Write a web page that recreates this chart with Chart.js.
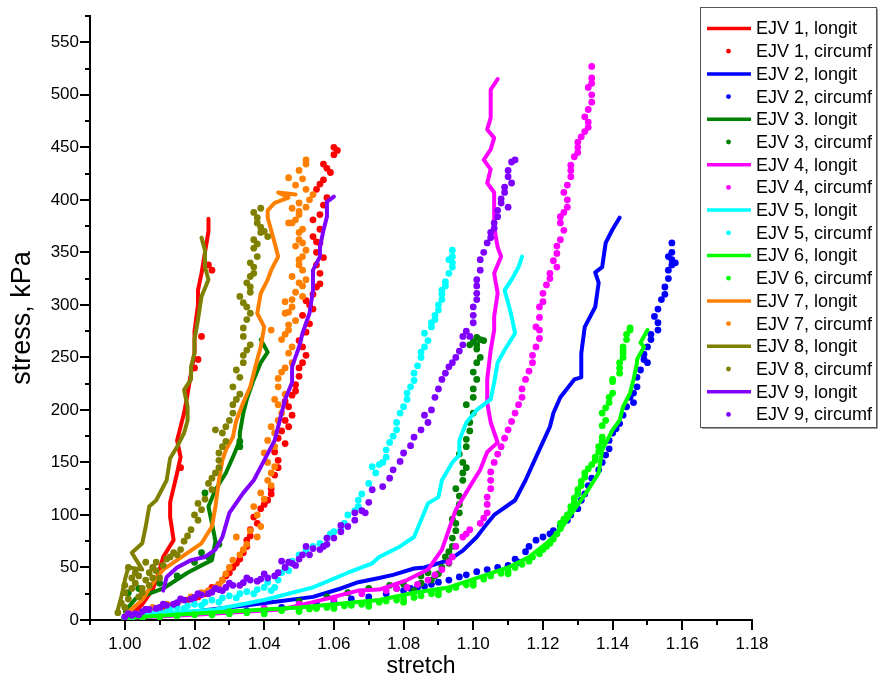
<!DOCTYPE html>
<html lang="en">
<head>
  <meta charset="UTF-8" />
  <title>Stress vs stretch, EJV samples</title>
  <script src="https://cdn.jsdelivr.net/npm/chart.js"></script>
  <style>
    html, body { margin: 0; padding: 0; background: #fff; }
    #chart { display: block; }
  </style>
</head>
<body>
  <canvas id="chart" width="879" height="677"></canvas>

  <script>
    // [stretch, stress kPa] pairs
    const ejv1Long = [[1.002,5],[1.005,15],[1.008,29],[1.010,48],[1.011,60],[1.014,76],[1.013,98],[1.013,112],[1.014,126],[1.015,140],[1.016,155],[1.015,171],[1.017,197],[1.018,215],[1.019,235],[1.020,255],[1.020,275],[1.021,300],[1.021,314],[1.022,330],[1.023,350],[1.024,370],[1.024,382]];
    const ejv1Circ = [[1.002,4],[1.006,10],[1.011,12],[1.013,14],[1.015,16],[1.018,19],[1.020,21],[1.021,22],[1.023,25],[1.024,27],[1.025,31],[1.027,34],[1.028,38],[1.029,42],[1.030,45],[1.031,50],[1.032,54],[1.033,58],[1.034,64],[1.035,70],[1.035,76],[1.036,80],[1.036,86],[1.038,92],[1.037,98],[1.039,106],[1.040,110],[1.041,114],[1.042,120],[1.042,125],[1.043,138],[1.044,145],[1.044,152],[1.043,160],[1.046,168],[1.044,173],[1.045,180],[1.047,184],[1.046,190],[1.048,195],[1.047,203],[1.046,208],[1.048,214],[1.049,218],[1.049,224],[1.050,232],[1.050,240],[1.051,245],[1.052,252],[1.051,260],[1.050,266],[1.052,274],[1.053,282],[1.051,290],[1.054,296],[1.053,300],[1.052,304],[1.054,310],[1.055,317],[1.056,320],[1.056,330],[1.055,338],[1.057,345],[1.055,350],[1.056,359],[1.055,360],[1.054,365],[1.056,372],[1.054,381],[1.056,386],[1.057,395],[1.058,402],[1.055,410],[1.056,415],[1.057,419],[1.059,426],[1.058,430],[1.057,434],[1.060,443],[1.061,447],[1.060,450],[1.016,145],[1.020,240],[1.021,248],[1.022,270],[1.025,333],[1.024,338]];

    const ejv2Long = [[1.000,2],[1.010,5],[1.020,8],[1.035,14],[1.045,18],[1.054,22],[1.062,30],[1.067,36],[1.073,40],[1.077,43],[1.083,49],[1.086,50],[1.093,57],[1.097,66],[1.101,79],[1.104,92],[1.106,100],[1.112,114],[1.115,133],[1.118,155],[1.122,184],[1.123,197],[1.125,212],[1.129,229],[1.131,231],[1.131,254],[1.132,279],[1.135,298],[1.136,321],[1.135,331],[1.137,336],[1.138,359],[1.140,372],[1.142,383]];
    const ejv2Circ = [[1.000,2],[1.005,3],[1.010,4],[1.015,5],[1.020,6],[1.025,7],[1.030,8],[1.035,9],[1.040,11],[1.045,12],[1.050,14],[1.055,16],[1.060,18],[1.065,20],[1.070,22],[1.075,25],[1.080,28],[1.082,30],[1.084,31],[1.086,32],[1.088,34],[1.090,36],[1.093,38],[1.096,41],[1.098,43],[1.101,46],[1.104,48],[1.107,50],[1.110,52],[1.112,58],[1.113,55],[1.115,65],[1.116,70],[1.118,76],[1.120,79],[1.122,82],[1.123,85],[1.125,89],[1.127,95],[1.128,100],[1.130,106],[1.131,114],[1.132,120],[1.133,128],[1.134,135],[1.136,143],[1.137,150],[1.138,157],[1.139,163],[1.139,171],[1.140,178],[1.141,182],[1.142,187],[1.143,195],[1.144,203],[1.146,207],[1.145,212],[1.146,216],[1.147,222],[1.147,231],[1.148,238],[1.150,245],[1.149,248],[1.149,253],[1.150,260],[1.151,267],[1.151,272],[1.153,276],[1.153,283],[1.152,289],[1.153,296],[1.154,305],[1.155,310],[1.155,317],[1.156,325],[1.156,333],[1.157,338],[1.158,340],[1.157,343],[1.156,346],[1.157,350],[1.157,359]];

    const ejv3Long = [[1.000,8],[1.003,20],[1.011,30],[1.018,45],[1.022,52],[1.025,57],[1.026,75],[1.025,92],[1.024,108],[1.026,124],[1.029,140],[1.031,155],[1.033,171],[1.033,178],[1.034,197],[1.035,210],[1.037,229],[1.039,245],[1.041,255],[1.039,267]];
    const ejv3Circ = [[1.001,26],[1.004,30],[1.010,35],[1.015,42],[1.020,55],[1.022,64],[1.024,60],[1.027,72],[1.023,121],[1.033,165],[1.033,170],[1.050,18],[1.058,22],[1.064,26],[1.070,30],[1.076,33],[1.078,30],[1.080,34],[1.083,28],[1.085,35],[1.085,42],[1.087,45],[1.088,38],[1.089,42],[1.090,44],[1.091,50],[1.092,60],[1.093,54],[1.093,65],[1.094,70],[1.094,78],[1.095,85],[1.095,92],[1.094,96],[1.096,102],[1.096,110],[1.096,118],[1.095,125],[1.097,133],[1.097,140],[1.098,145],[1.097,150],[1.096,158],[1.098,165],[1.098,172],[1.099,180],[1.099,188],[1.100,197],[1.098,205],[1.100,212],[1.100,220],[1.101,229],[1.100,236],[1.101,245],[1.102,250],[1.101,258],[1.101,262],[1.102,267],[1.100,265],[1.103,266],[1.101,269],[1.099,262]];

    const ejv4Long = [[1.000,2],[1.020,5],[1.045,10],[1.054,17],[1.067,28],[1.073,29],[1.081,38],[1.087,48],[1.091,67],[1.093,86],[1.095,105],[1.099,127],[1.102,143],[1.104,160],[1.107,169],[1.105,188],[1.104,207],[1.104,229],[1.105,257],[1.106,276],[1.106,289],[1.107,311],[1.106,330],[1.108,346],[1.107,355],[1.106,374],[1.106,393],[1.106,407],[1.104,416],[1.105,429],[1.103,438],[1.105,448],[1.106,459],[1.104,467],[1.105,478],[1.105,489],[1.105,505],[1.107,515]];
    const ejv4Circ = [[1.000,2],[1.010,4],[1.020,6],[1.030,8],[1.040,11],[1.050,15],[1.060,20],[1.068,25],[1.075,28],[1.078,30],[1.081,31],[1.084,34],[1.087,38],[1.089,43],[1.091,48],[1.093,55],[1.094,60],[1.095,70],[1.097,79],[1.098,82],[1.099,86],[1.102,92],[1.103,97],[1.104,102],[1.104,110],[1.104,117],[1.105,125],[1.105,133],[1.105,141],[1.106,150],[1.107,158],[1.108,165],[1.109,173],[1.110,181],[1.111,189],[1.112,197],[1.113,205],[1.114,212],[1.114,220],[1.115,229],[1.116,237],[1.117,245],[1.117,252],[1.118,260],[1.119,268],[1.119,276],[1.118,279],[1.119,288],[1.119,298],[1.120,303],[1.120,311],[1.121,319],[1.122,325],[1.122,330],[1.124,336],[1.123,342],[1.124,349],[1.124,356],[1.125,362],[1.126,371],[1.125,378],[1.125,384],[1.126,388],[1.127,393],[1.127,400],[1.126,407],[1.127,414],[1.128,422],[1.128,428],[1.128,433],[1.129,441],[1.130,445],[1.130,450],[1.130,455],[1.131,460],[1.132,465],[1.133,469],[1.133,474],[1.132,479],[1.133,486],[1.134,493],[1.134,500],[1.133,507],[1.134,511],[1.134,516],[1.134,527]];

    const ejv5Long = [[1.000,2],[1.006,5],[1.026,10],[1.040,19],[1.054,31],[1.064,45],[1.071,54],[1.073,60],[1.079,70],[1.083,79],[1.085,95],[1.087,111],[1.090,117],[1.091,133],[1.094,150],[1.096,157],[1.096,171],[1.098,188],[1.101,200],[1.105,210],[1.106,226],[1.107,245],[1.109,257],[1.112,273],[1.111,289],[1.110,302],[1.109,314],[1.111,324],[1.113,336],[1.114,346]];
    const ejv5Circ = [[1.000,3],[1.002,2],[1.003,4],[1.005,6],[1.007,5],[1.008,7.5],[1.010,9],[1.012,8],[1.013,10.5],[1.015,12],[1.017,11],[1.018,13.5],[1.020,15],[1.022,14],[1.023,17],[1.025,19],[1.027,17],[1.028,21],[1.030,23],[1.032,21],[1.033,25],[1.035,27],[1.037,25],[1.038,29],[1.040,31],[1.041,36],[1.042,28],[1.043,31],[1.044,38],[1.045,45],[1.046,50],[1.047,47],[1.048,56],[1.050,62],[1.052,66],[1.054,70],[1.056,73],[1.058,78],[1.059,82],[1.060,84],[1.062,86],[1.063,92],[1.064,100],[1.066,104],[1.067,108],[1.067,114],[1.068,120],[1.070,130],[1.072,140],[1.071,146],[1.073,148],[1.074,150],[1.075,155],[1.075,162],[1.076,169],[1.077,175],[1.078,181],[1.078,188],[1.079,197],[1.080,203],[1.081,210],[1.081,216],[1.082,222],[1.083,228],[1.083,235],[1.084,242],[1.085,250],[1.085,255],[1.086,260],[1.087,266],[1.086,273],[1.088,279],[1.088,283],[1.089,286],[1.089,290],[1.090,295],[1.090,300],[1.091,305],[1.091,310],[1.091,314],[1.092,318],[1.092,322],[1.093,330],[1.094,336],[1.094,340],[1.093,343],[1.094,346],[1.094,352]];

    const ejv6Long = [[1.000,2],[1.010,4],[1.030,8],[1.050,12],[1.073,19],[1.083,26],[1.093,31],[1.102,41],[1.110,50],[1.116,60],[1.121,73],[1.125,86],[1.129,105],[1.133,124],[1.136,140],[1.137,162],[1.140,181],[1.142,190],[1.143,203],[1.145,216],[1.146,229],[1.147,245],[1.147,248],[1.149,260],[1.148,264],[1.150,276]];
    const ejv6Circ = [[1.000,1],[1.005,2],[1.010,3],[1.015,4],[1.020,5],[1.025,5],[1.030,6],[1.030,8],[1.035,7],[1.040,8],[1.040,6],[1.045,9],[1.050,10],[1.050,8],[1.053,10.5],[1.055,11],[1.058,12],[1.060,13],[1.060,11],[1.063,13.5],[1.065,14],[1.068,15],[1.070,16],[1.070,13],[1.073,17],[1.075,18],[1.078,19],[1.080,20],[1.080,17],[1.083,21.5],[1.085,23],[1.088,25],[1.090,27],[1.090,24],[1.093,29],[1.095,31],[1.098,33.5],[1.100,36],[1.100,33],[1.103,39],[1.105,42],[1.108,44.5],[1.110,47],[1.110,44],[1.112,50],[1.114,53],[1.116,56],[1.117,60],[1.119,63],[1.120,67],[1.121,70],[1.122,73],[1.123,77],[1.124,82],[1.125,87],[1.125,92],[1.126,96],[1.127,100],[1.128,104],[1.128,108],[1.129,112],[1.129,116],[1.130,120],[1.130,124],[1.131,128],[1.131,132],[1.132,136],[1.132,140],[1.133,144],[1.134,148],[1.135,152],[1.135,155],[1.136,160],[1.136,165],[1.137,170],[1.137,174],[1.137,185],[1.138,190],[1.137,197],[1.138,202],[1.139,207],[1.139,212],[1.140,216],[1.140,227],[1.140,229],[1.142,235],[1.142,240],[1.142,245],[1.143,250],[1.143,254],[1.143,257],[1.143,260],[1.144,267],[1.144,272],[1.145,276],[1.145,278]];

    const ejv7Long = [[1.000,5],[1.005,19],[1.008,35],[1.011,48],[1.018,64],[1.022,73],[1.025,89],[1.026,108],[1.027,133],[1.028,152],[1.029,162],[1.031,174],[1.032,190],[1.034,207],[1.036,222],[1.038,248],[1.039,260],[1.040,279],[1.038,292],[1.039,311],[1.041,324],[1.042,333],[1.044,346],[1.043,359],[1.042,371],[1.041,383],[1.041,390],[1.043,397],[1.047,402],[1.044,407],[1.049,405]];
    const ejv7Circ = [[1.001,6],[1.008,12],[1.012,15],[1.016,19],[1.019,22],[1.022,26],[1.024,28],[1.026,31],[1.027,34],[1.028,38],[1.029,44],[1.030,50],[1.031,57],[1.033,62],[1.034,67],[1.035,72],[1.032,79],[1.038,79],[1.036,85],[1.039,89],[1.038,100],[1.037,108],[1.040,115],[1.039,121],[1.042,128],[1.041,133],[1.042,140],[1.043,146],[1.041,150],[1.040,159],[1.043,165],[1.041,171],[1.043,178],[1.042,184],[1.044,190],[1.045,197],[1.044,205],[1.043,210],[1.046,215],[1.044,222],[1.044,230],[1.045,236],[1.046,240],[1.048,245],[1.047,254],[1.048,260],[1.045,267],[1.046,272],[1.047,276],[1.042,276],[1.047,281],[1.049,285],[1.046,292],[1.047,293],[1.048,298],[1.046,303],[1.048,305],[1.051,308],[1.049,312],[1.051,318],[1.050,321],[1.052,324],[1.048,327],[1.051,333],[1.050,338],[1.050,343],[1.051,346],[1.052,352],[1.049,356],[1.051,359],[1.050,362],[1.050,369],[1.051,372],[1.047,378],[1.048,378],[1.049,381],[1.050,386],[1.050,389],[1.048,392],[1.052,393],[1.050,397],[1.053,400],[1.054,405],[1.052,410],[1.049,414],[1.051,420],[1.047,421],[1.050,428],[1.052,434],[1.052,438]];

    const ejv8Long = [[0.998,10],[0.999,22],[1.000,38],[1.001,50],[1.005,48],[1.002,64],[1.005,73],[1.006,89],[1.007,108],[1.009,114],[1.012,133],[1.013,154],[1.015,165],[1.017,178],[1.018,190],[1.018,203],[1.017,219],[1.019,229],[1.019,241],[1.020,254],[1.020,267],[1.021,286],[1.022,308],[1.024,324],[1.023,336],[1.023,352],[1.022,364]];
    const ejv8Circ = [[0.998,7],[0.999,16],[1.000,12],[1.000,26],[1.000,33],[1.001,20],[1.002,30],[1.002,40],[1.004,22],[1.004,42],[1.003,35],[1.005,26],[1.005,30],[1.003,45],[1.001,50],[1.006,38],[1.007,33],[1.007,45],[1.008,40],[1.008,50],[1.009,47],[1.009,55],[1.006,55],[1.010,40],[1.011,52],[1.012,58],[1.013,60],[1.014,64],[1.015,62],[1.016,67],[1.017,75],[1.018,80],[1.019,86],[1.021,95],[1.020,100],[1.022,105],[1.021,111],[1.023,115],[1.025,124],[1.024,130],[1.025,135],[1.026,140],[1.027,145],[1.027,152],[1.027,159],[1.028,165],[1.029,170],[1.028,178],[1.026,181],[1.029,184],[1.030,190],[1.031,197],[1.031,205],[1.032,210],[1.033,215],[1.031,222],[1.033,231],[1.032,238],[1.034,245],[1.034,252],[1.035,257],[1.036,262],[1.034,270],[1.034,278],[1.035,286],[1.036,292],[1.035,298],[1.034,302],[1.033,308],[1.036,312],[1.036,317],[1.035,321],[1.036,327],[1.037,330],[1.037,336],[1.036,340],[1.038,346],[1.037,354],[1.038,358],[1.037,362],[1.041,365],[1.039,369],[1.040,370],[1.039,374],[1.038,378],[1.038,383],[1.037,388],[1.039,392]];

    const ejv9Long = [[1.011,28],[1.012,41],[1.015,50],[1.019,57],[1.023,60],[1.026,67],[1.028,79],[1.030,102],[1.034,121],[1.037,133],[1.040,152],[1.043,171],[1.044,184],[1.045,197],[1.046,210],[1.048,226],[1.048,241],[1.050,260],[1.051,273],[1.053,292],[1.054,314],[1.054,333],[1.056,346],[1.056,355],[1.057,371],[1.058,384],[1.058,398],[1.060,403]];
    const ejv9Circ = [[1.000,3],[1.001,6],[1.002,4.5],[1.003,6],[1.004,5],[1.005,8],[1.006,10],[1.007,10],[1.009,11],[1.010,12],[1.011,15],[1.012,14],[1.014,15],[1.015,16.5],[1.016,20],[1.017,19],[1.019,20],[1.020,21.5],[1.021,25],[1.022,24],[1.024,25],[1.025,26.5],[1.026,30],[1.027,29],[1.028,28],[1.029,31],[1.030,35],[1.031,33],[1.033,33],[1.034,35.5],[1.035,40],[1.036,38],[1.038,37],[1.039,39],[1.040,44],[1.041,40],[1.043,42],[1.044,45],[1.045,56],[1.046,50],[1.047,55],[1.048,54],[1.049,52],[1.050,58],[1.051,62],[1.052,70],[1.053,62],[1.054,68],[1.056,67],[1.057,70],[1.058,72],[1.058,78],[1.060,78],[1.062,84],[1.062,90],[1.064,89],[1.066,95],[1.066,102],[1.068,104],[1.069,102],[1.070,112],[1.071,124],[1.074,127],[1.076,135],[1.077,143],[1.079,151],[1.080,159],[1.082,166],[1.083,174],[1.085,181],[1.087,188],[1.086,195],[1.088,200],[1.089,212],[1.090,220],[1.091,229],[1.092,235],[1.093,241],[1.094,245],[1.095,250],[1.096,256],[1.097,262],[1.097,270],[1.099,270],[1.098,275],[1.100,283],[1.100,290],[1.100,298],[1.101,305],[1.101,311],[1.101,318],[1.101,324],[1.102,333],[1.102,343],[1.103,350],[1.104,359],[1.105,364],[1.105,369],[1.106,373],[1.106,378],[1.107,384],[1.107,390],[1.108,397],[1.108,401],[1.109,407],[1.110,393],[1.109,412],[1.111,416],[1.110,422],[1.110,428],[1.111,436],[1.112,438]];

    const seriesLabels = ['EJV 1, longit','EJV 1, circumf','EJV 2, longit','EJV 2, circumf','EJV 3. longit','EJV 3, circumf','EJV 4, longit','EJV 4, circumf','EJV 5, longit','EJV 5, circumf','EJV 6, longit','EJV 6, circumf','EJV 7, longit','EJV 7, circumf','EJV 8, longit','EJV 8, circumf','EJV 9, longit','EJV 9, circumf'];
    const seriesColors = ['#FF0000','#FF0000','#0000FF','#0000FF','#008000','#008000','#FF00FF','#FF00FF','#00FFFF','#00FFFF','#00FF00','#00FF00','#FF8000','#FF8000','#808000','#808000','#8000FF','#8000FF'];
    const seriesData = [ejv1Long, ejv1Circ, ejv2Long, ejv2Circ, ejv3Long, ejv3Circ, ejv4Long, ejv4Circ, ejv5Long, ejv5Circ, ejv6Long, ejv6Circ, ejv7Long, ejv7Circ, ejv8Long, ejv8Circ, ejv9Long, ejv9Circ];

    const FONT = "'Liberation Sans', Arial, sans-serif";

    const datasets = seriesData.map((pts, i) => {
      const isLine = i % 2 === 0;
      return {
        label: seriesLabels[i],
        data: pts.map(p => ({ x: p[0], y: p[1] })),
        showLine: isLine,
        borderColor: seriesColors[i],
        backgroundColor: seriesColors[i],
        borderWidth: isLine ? 4 : 0,
        borderJoinStyle: 'round',
        borderCapStyle: 'round',
        pointRadius: isLine ? 0 : 3.4,
        pointHoverRadius: 0,
        order: seriesData.length - i   // later series on top, like Origin
      };
    });

    // major/minor tick marks on the outside of the axes
    const axisTicks = {
      id: 'axisTicks',
      afterDraw(chart) {
        const { ctx, scales: { x, y } } = chart;
        ctx.save();
        ctx.strokeStyle = '#000';
        ctx.lineWidth = 2;
        x.ticks.forEach(t => {
          const px = Math.round(x.getPixelForValue(t.value));
          const major = Math.round(t.value * 100) % 2 === 0;
          ctx.beginPath();
          ctx.moveTo(px, x.top);
          ctx.lineTo(px, x.top + (major ? 10 : 5));
          ctx.stroke();
        });
        y.ticks.forEach(t => {
          const py = Math.round(y.getPixelForValue(t.value));
          const major = Math.round(t.value) % 50 === 0;
          ctx.beginPath();
          ctx.moveTo(y.right, py);
          ctx.lineTo(y.right - (major ? 10 : 5), py);
          ctx.stroke();
        });
        ctx.restore();
      }
    };

    // boxed legend in the upper right, drawn over the plot
    const boxLegend = {
      id: 'boxLegend',
      afterDraw(chart) {
        const ctx = chart.ctx;
        const bx = 700, by = 7, bw = 176, bh = 420, rowH = 22.7;
        ctx.save();
        ctx.fillStyle = '#fff';
        ctx.fillRect(bx, by, bw, bh);
        ctx.strokeStyle = '#555';
        ctx.lineWidth = 1;
        ctx.strokeRect(bx + 0.5, by + 0.5, bw, bh);
        ctx.strokeStyle = '#999';
        ctx.beginPath();
        ctx.moveTo(bx + 2, by + bh + 1.5);
        ctx.lineTo(bx + bw + 1.5, by + bh + 1.5);
        ctx.lineTo(bx + bw + 1.5, by + 2);
        ctx.stroke();

        ctx.font = '18px ' + FONT;
        ctx.textBaseline = 'middle';
        ctx.textAlign = 'left';
        seriesLabels.forEach((lab, i) => {
          const cy = by + 21.5 + i * rowH;
          ctx.strokeStyle = seriesColors[i];
          ctx.fillStyle = seriesColors[i];
          if (i % 2 === 0) {
            ctx.lineWidth = 3.5;
            ctx.beginPath();
            ctx.moveTo(707, cy);
            ctx.lineTo(751, cy);
            ctx.stroke();
          } else {
            ctx.beginPath();
            ctx.arc(728.5, cy, 2.4, 0, Math.PI * 2);
            ctx.fill();
          }
          ctx.fillStyle = '#000';
          ctx.fillText(lab, 756, cy + 1);
        });
        ctx.restore();
      }
    };

    const ctx = document.getElementById('chart').getContext('2d');
    const chart = new Chart(ctx, {
      type: 'scatter',
      data: { datasets: datasets },
      plugins: [axisTicks, boxLegend],
      options: {
        responsive: false,
        animation: false,
        layout: { padding: { top: 16, right: 127, left: 0, bottom: 0 } },
        plugins: {
          legend: { display: false },
          tooltip: { enabled: false }
        },
        scales: {
          x: {
            type: 'linear',
            position: 'bottom',
            min: 0.99,
            max: 1.18,
            ticks: {
              stepSize: 0.01,
              autoSkip: false,
              maxRotation: 0,
              padding: 4,
              color: '#000',
              font: { family: FONT, size: 17 },
              callback: v => Math.round(v * 100) % 2 === 0 ? v.toFixed(2) : ''
            },
            grid: { display: false, drawTicks: true, tickLength: 10 },
            border: { display: true, color: '#000', width: 2 },
            title: {
              display: true,
              text: 'stretch',
              color: '#000',
              font: { family: FONT, size: 23 },
              padding: { top: 0, bottom: -3 }
            },
            afterFit: s => { s.height = 57; }
          },
          y: {
            type: 'linear',
            min: 0,
            max: 575,
            ticks: {
              stepSize: 25,
              autoSkip: false,
              padding: 1,
              color: '#000',
              font: { family: FONT, size: 17 },
              callback: v => Math.round(v) % 50 === 0 ? String(v) : ''
            },
            grid: { display: false, drawTicks: true, tickLength: 10 },
            border: { display: true, color: '#000', width: 2 },
            title: {
              display: true,
              text: 'stress, kPa',
              color: '#000',
              font: { family: FONT, size: 27 },
              padding: { top: 6, bottom: 0 }
            },
            afterFit: s => { s.width = 90; }
          }
        }
      }
    });
  </script>
</body>
</html>
